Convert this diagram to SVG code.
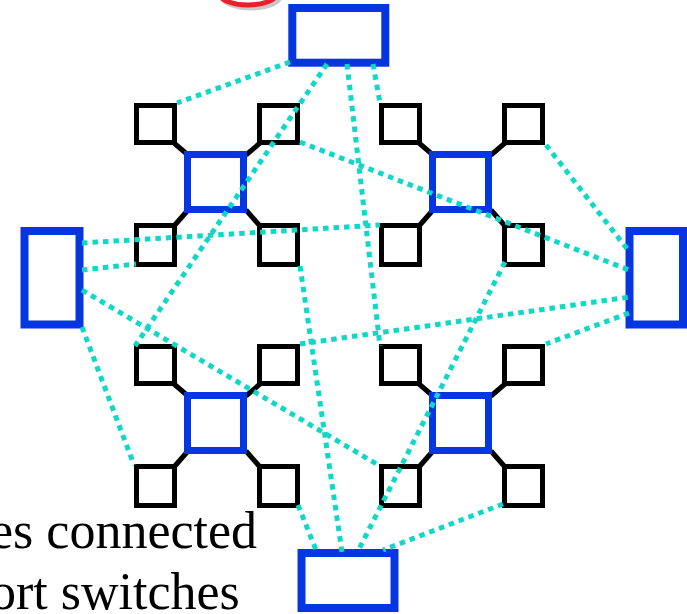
<svg xmlns="http://www.w3.org/2000/svg" width="687" height="614" viewBox="0 0 687 614">
  <style>
    .sw { fill: #fff; stroke: #0636e2; stroke-width: 8; }
    .hub { fill: #fff; stroke: #0636e2; stroke-width: 7; }
    .pt { fill: #fff; stroke: #000; stroke-width: 5; }
    .lk { stroke: #000; stroke-width: 5; }
    .cn { stroke: #10d8c6; stroke-width: 5; stroke-dasharray: 5.5 5; fill: none; }
    .lbl { font-family: "Liberation Serif", "Times New Roman", serif; font-size: 52px; fill: #000; }
  </style>
  <defs>
    <!-- one cluster: central switch with four attached ports -->
    <g id="cluster">
      <line class="lk" x1="40" y1="40" x2="54" y2="52"/>
      <line class="lk" x1="126" y1="40" x2="112" y2="52"/>
      <line class="lk" x1="40" y1="123" x2="54" y2="107"/>
      <line class="lk" x1="126" y1="123" x2="112" y2="107"/>
      <rect class="pt" x="2.5" y="2.5" width="38" height="37"/>
      <rect class="pt" x="125.5" y="2.5" width="38" height="37"/>
      <rect class="pt" x="2.5" y="122.5" width="38" height="39"/>
      <rect class="pt" x="125.5" y="122.5" width="38" height="39"/>
      <rect class="hub" x="53.5" y="51.5" width="56" height="55"/>
    </g>
  </defs>

  <!-- partial callout oval at the top edge -->
  <g id="callout">
    <ellipse cx="251" cy="-4" rx="29" ry="12" fill="none" stroke="#c8c8c8" stroke-width="5"/>
    <ellipse cx="248" cy="-7" rx="29" ry="12" fill="none" stroke="#e8202a" stroke-width="5"/>
  </g>

  <g id="clusterTL" transform="translate(134,103)"><use href="#cluster"/></g>
  <g id="clusterTR" transform="translate(379,103)"><use href="#cluster"/></g>
  <g id="clusterBL" transform="translate(134,344)"><use href="#cluster"/></g>
  <g id="clusterBR" transform="translate(379,344)"><use href="#cluster"/></g>

  <g id="switchTop"><rect class="sw" x="292.3" y="8" width="93" height="54.7"/></g>
  <g id="switchBottom"><rect class="sw" x="301.5" y="553" width="93" height="55"/></g>
  <g id="switchLeft"><rect class="sw" x="24.5" y="231" width="55" height="93.5"/></g>
  <g id="switchRight"><rect class="sw" x="629.5" y="231" width="53.5" height="93.5"/></g>

  <g id="connectors" class="cn">
    <line x1="290" y1="62" x2="177" y2="103"/>
    <line x1="327" y1="64" x2="135" y2="346"/>
    <line x1="347" y1="64" x2="380" y2="346"/>
    <line x1="373" y1="64" x2="380" y2="103"/>
    <line x1="300" y1="142" x2="629" y2="270"/>
    <line x1="82" y1="243" x2="380" y2="225"/>
    <line x1="82" y1="270" x2="136" y2="264"/>
    <line x1="82" y1="290" x2="380" y2="466"/>
    <line x1="82" y1="327" x2="134" y2="465"/>
    <line x1="300" y1="266" x2="342" y2="552"/>
    <line x1="300" y1="344" x2="630" y2="297"/>
    <line x1="629" y1="313" x2="546" y2="344"/>
    <line x1="505" y1="262" x2="358" y2="551"/>
    <line x1="546" y1="145" x2="628" y2="250"/>
    <line x1="298" y1="505" x2="316" y2="550"/>
    <line x1="503" y1="504" x2="383" y2="550"/>
  </g>

  <g id="caption">
    <text class="lbl" x="-10" y="548">es connected</text>
    <text class="lbl" x="-10" y="609">ort switches</text>
  </g>
</svg>
